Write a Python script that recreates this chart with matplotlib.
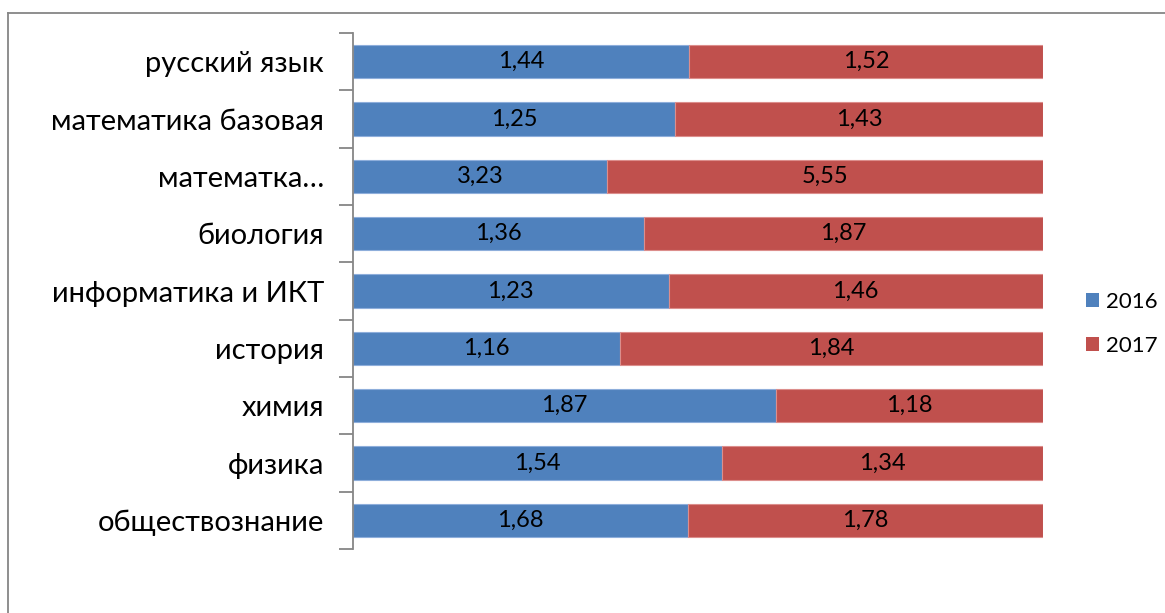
import numpy as np
import matplotlib.pyplot as plt
from matplotlib.patches import Patch
from matplotlib.lines import Line2D

plt.rcParams['font.family'] = ['Lato', 'DejaVu Sans']

categories = ['русский язык', 'математика базовая', 'математка…', 'биология',
              'информатика и ИКТ', 'история', 'химия', 'физика', 'обществознание']
values_2016 = [1.44, 1.25, 3.23, 1.36, 1.23, 1.16, 1.87, 1.54, 1.68]
values_2017 = [1.52, 1.43, 5.55, 1.87, 1.46, 1.84, 1.18, 1.34, 1.78]
series_names = ['2016', '2017']

blue = '#4F81BD'
red = '#C0504D'

fig = plt.figure(figsize=(11.65, 6.13), dpi=100)
ax = fig.add_axes([353 / 1165, 1 - 549 / 613, 690 / 1165, 516 / 613])

a = np.array(values_2016)
b = np.array(values_2017)
tot = a + b
pa = a / tot
pb = b / tot
y = np.arange(len(categories))

ax.barh(y, pa, height=0.58, color=blue, edgecolor='#8EAEDB', linewidth=0.8)
ax.barh(y, pb, left=pa, height=0.58, color=red, edgecolor='#DC8E8C', linewidth=0.8)

def fmt(v):
    return f'{v:.2f}'.replace('.', ',')

# подписи значений в центре сегментов
for i in range(len(categories)):
    ax.text(pa[i] / 2, y[i], fmt(a[i]), ha='center', va='center', fontsize=17)
    ax.text(pa[i] + pb[i] / 2, y[i], fmt(b[i]), ha='center', va='center', fontsize=17)

ax.set_xlim(0, 1)
ax.set_ylim(len(categories) - 0.5, -0.5)
ax.set_xticks([])
ax.set_yticks(y)
ax.set_yticklabels(categories, fontsize=21)
ax.tick_params(axis='y', which='major', length=0, pad=21)
ax.set_yticks(np.arange(-0.5, len(categories)), minor=True)
ax.tick_params(axis='y', which='minor', length=10, color='#868686', width=1.3)
for s in ['top', 'right', 'bottom']:
    ax.spines[s].set_visible(False)
ax.spines['left'].set_color('#868686')
ax.spines['left'].set_linewidth(1.3)

# рамка диаграммы (видны левая и верхняя стороны)
fig.add_artist(Line2D([8 / 1165, 8 / 1165], [0, 1 - 13 / 613], color='#868686', lw=1.3))
fig.add_artist(Line2D([8 / 1165, 1], [1 - 13 / 613, 1 - 13 / 613], color='#868686', lw=1.3))

handles = [Patch(facecolor=blue), Patch(facecolor=red)]
fig.legend(handles, series_names, loc='center left', bbox_to_anchor=(1086 / 1165, 1 - 324 / 613),
           frameon=False, fontsize=16, handlelength=0.6, handleheight=0.6,
           handletextpad=0.3, labelspacing=1.1, borderpad=0, borderaxespad=0)

fig.savefig('out.png', dpi=100)
